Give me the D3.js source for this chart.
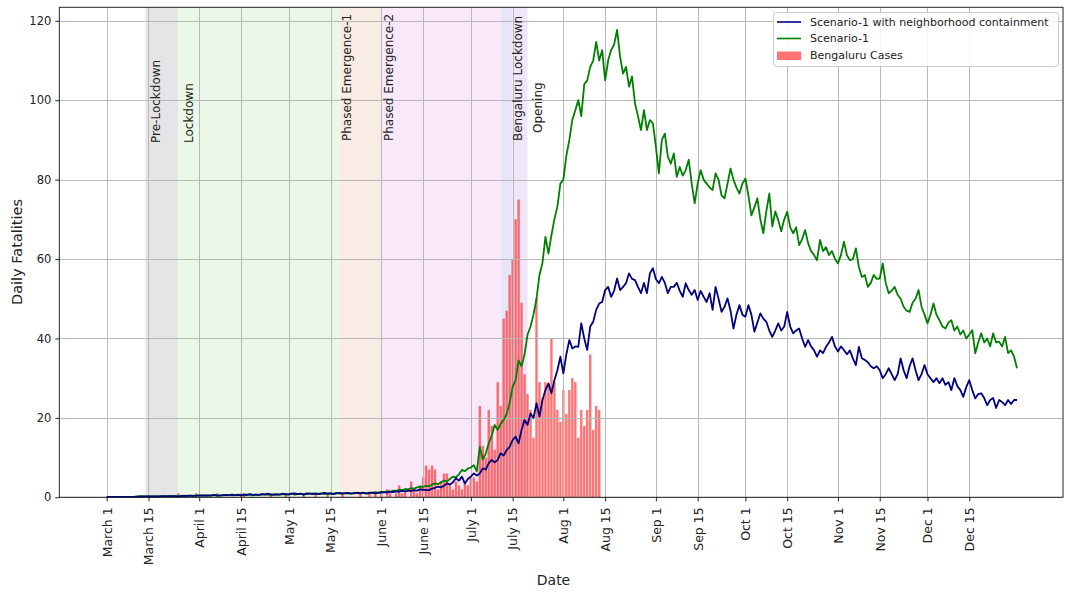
<!DOCTYPE html>
<html><head><meta charset="utf-8">
<script src="https://cdn.jsdelivr.net/npm/d3@7"></script>
<style>body{margin:0;background:#fff}svg text{font-family:"DejaVu Sans",sans-serif;fill:#222}</style>
</head><body><svg id="c" width="1067" height="592"></svg>
<script>
// ---------------- DATA ----------------
const startDate = "2020-03-01"; // first day of every daily series

// Scenario-1 with neighborhood containment (daily, from Mar 1)
const scenarioContain = [
0.1,0.1,0.1,0.1,0.1,0.1,0.1,0.1,0.1,0.1,
0.1,0.2,0.2,0.2,0.2,0.2,0.2,0.2,0.2,0.3,
0.2,0.3,0.3,0.3,0.2,0.3,0.4,0.3,0.4,0.3,
0.4,0.4,0.5,0.4,0.5,0.4,0.6,0.5,0.4,0.5,
0.6,0.5,0.7,0.5,0.6,0.5,0.7,0.6,0.8,0.6,
0.7,0.6,0.8,0.7,0.9,0.7,0.6,0.8,0.7,0.9,
0.8,0.7,0.9,1.0,0.8,0.9,0.7,1.0,0.9,0.8,
1.0,0.8,0.9,1.1,0.9,1.0,0.8,1.0,1.1,0.9,
1.0,1.1,0.9,1.0,1.2,1.0,1.1,0.9,1.1,1.2,
1.0,1.1,
1.2,1.3,1.2,1.4,1.3,1.5,1.4,1.6,1.5,1.7,
1.6,1.8,1.7,2.0,1.9,1.8,1.8,2.2,2.4,2.7,
2.5,2.9,3.5,3.2,3.8,4.8,4.2,5.2,3.5,4.6,
5.2,6.0,5.5,6.0,7.3,7.0,8.6,9.4,8.8,9.4,11.1,10.5,11.9,12.7,14.4,
15.3,13.6,17,19.5,18.2,21.1,20,23.7,20.3,24.5,27,28.7,26.2,29.5,32,35.4,31.2,36,39.6,37.5,38,37.9,43.8,40,37.1,43,44.2,
47.2,48.8,49.2,52.2,53,50.5,52,55.1,52.2,53,53.9,56.4,55,54.7,53,51.4,54,51.4,56.4,57.7,
55,53.9,55.5,54,51.4,53,53,54,52,50.5,53.9,52.2,51,52.2,49.7,52,50.5,
49.2,51.4,47.2,53,50,46.7,48,50.1,47,42.5,46,48.4,46,45.5,48.4,46,41.7,44,46.3,45,
44.2,42,40.4,42,43.8,42,43,46.7,43,41.3,42,42.5,40,37.9,39.6,38,37,35.4,37,36.3,
37.9,39,40.4,38,36.7,38,37.1,36,37,35,33.3,37.9,35,34.6,34,33,32.5,33,32,30,
31,32.5,31,29.5,31,35,32,30,33,35,32,29.5,31,33.3,31,30,29,30,28.7,30,
28.3,29,27,30,28,27,25.3,27.8,29.5,27,24.9,26,26.2,25,23.2,24.5,25,22.5,24.5,24,
23.2,24.5,23.5,24.5,24.5
];

// Scenario-1 (daily, from Mar 1)
const scenario1 = [
0.1,0.1,0.1,0.1,0.1,0.1,0.1,0.1,0.1,0.1,
0.2,0.2,0.2,0.2,0.2,0.2,0.2,0.2,0.3,0.3,
0.3,0.3,0.3,0.3,0.3,0.4,0.3,0.4,0.4,0.4,
0.4,0.5,0.4,0.5,0.4,0.5,0.5,0.4,0.5,0.6,
0.5,0.6,0.5,0.6,0.7,0.5,0.6,0.7,0.6,0.5,
0.7,0.6,0.7,0.8,0.6,0.7,0.8,0.6,0.7,0.8,
0.7,0.8,0.9,0.7,0.8,0.9,0.7,0.8,0.9,1.0,
0.8,0.9,1.0,0.8,0.9,1.0,0.9,1.1,0.9,1.0,
1.1,0.9,1.0,1.2,1.0,1.1,1.2,1.0,1.2,1.1,
1.3,1.2,
1.4,1.3,1.5,1.4,1.7,1.6,1.9,1.8,2.1,2.0,
2.3,2.2,2.5,2.7,2.6,2.9,2.8,3.2,3.5,3.3,
3.8,4.2,4.0,4.6,5.2,5.0,5.8,6.9,6.6,7.2,
7.5,8.1,6.5,12.7,9.5,11.0,13.6,15.5,18.2,17.0,18.5,19.5,21.0,23.7,27.8,
29.5,34.5,33,36,41,43,46,50,56,59,65.6,61.4,66,70,73.2,79,80,86,90,95,
97.5,100,96,104,105,108.4,110,114.7,110,112.6,105,110,112.6,114,117.7,111,106.7,108.4,103.4,106,
99.2,96,92.5,97.5,92.5,95,94.2,88.3,81.6,90,91.6,85.8,84,86.6,80.7,83.2,81,82.4,85,79,
74,79,82.4,80,79,78,77.4,81.6,80,76,75.3,79,82.8,80,78,76.5,79,80.3,76,71,
73,75.3,70,66.5,72,76.5,68.2,72,69.8,67,70,71.9,68,66.5,68,63.5,65,67.3,64,62,
61,59.7,64.8,62,63,61,62,60,58.9,61,64.4,61,59.7,60,62.7,58,55.5,56,53,54,
56,55,55.1,58.9,54,51.4,52,53,51,50,48,47,46.7,49,50,52.2,48,46,43.8,46,
48.8,46,44.6,43,42.5,44,44.6,42,43,41,42,40,41,42.1,36.3,39,41.3,39,40,38,
41.3,39,39.2,38,40.4,36.3,37,35.4,32.5
];

// Bengaluru Cases (daily, from Mar 1)
const bengaluruCases = [
0,0,0,0,0,0,0,0,0,0, 0,0,0,0,0,0,0,0,0,0,
0,0,0,0,1,0,0,0,0,0, 1,0,0,0,0,0,0,1,0,0,
0,0,0,0,0,1,1,0,0,0, 0,0,0,0,0,1,0,0,0,0,
1,0,0,0,0,0,1,0,0,0, 1,0,0,0,1,0,0,0,0,1,
0,0,0,0,0,1,0,0,1,0, 1,0,1,0,2,1,0,1,3,1,
2,0,4,2,1,3,5,8,7,8, 7,2,4,6,6,3,2,4,3,2,
4,3,5,5,4,23,13,10,22,18, 12,29,23,45,47,56,60,70,75,49,
31,26,22,15,50,29,25,29,28,40, 29,22,19,27,21,27,30,29,15,22,
18,22,36,17,23,22
];

const tickDates  = ["2020-03-01","2020-03-15","2020-04-01","2020-04-15","2020-05-01","2020-05-15","2020-06-01","2020-06-15","2020-07-01","2020-07-15","2020-08-01","2020-08-15","2020-09-01","2020-09-15","2020-10-01","2020-10-15","2020-11-01","2020-11-15","2020-12-01","2020-12-15"];
const tickLabels = ["March 1","March 15","April 1","April 15","May 1","May 15","June 1","June 15","July 1","July 15","Aug 1","Aug 15","Sep 1","Sep 15","Oct 1","Oct 15","Nov 1","Nov 15","Dec 1","Dec 15"];
const yTicks = [0,20,40,60,80,100,120];

const phaseNames  = ["Pre-Lockdown","Lockdown","Phased Emergence-1","Phased Emergence-2","Bengaluru Lockdown","Opening"];
const phaseStarts = ["2020-03-14","2020-03-25","2020-05-18","2020-06-01","2020-07-11","2020-07-15"];
const phaseEnds   = ["2020-03-25","2020-05-18","2020-06-01","2020-07-11","2020-07-15","2020-07-20"];
const phaseLabelDates = ["2020-03-19","2020-03-30","2020-05-22","2020-06-05","2020-07-18","2020-07-25"];

const seriesNames = ["Scenario-1 with neighborhood containment","Scenario-1","Bengaluru Cases"];

// ---------------- DRAW ----------------
const parse = d3.utcParse("%Y-%m-%d");
const t0 = parse(startDate);
const DAY = 864e5;
const dayDate = i => new Date(+t0 + i*DAY);
const svg = d3.select("#c");

const L = 59.3, R = 1063, T = 7.3, B = 497.3;
const x = d3.scaleUtc()
  .domain([dayDate(-15.88), dayDate(320.4)])
  .range([L, R]);
const y = d3.scaleLinear().domain([0, 123.4]).range([B, T]);

const phaseColors = ["#e5e5e8","#eaf8e8","#f8ece5","#f9e8f9","#e6e6f8","#efe6f8"];
const labelBottoms = [143,143,141,141,141,133];

// bands
svg.append("g").selectAll("rect").data(phaseNames).join("rect")
  .attr("x",(d,i)=>x(parse(phaseStarts[i])))
  .attr("width",(d,i)=>x(parse(phaseEnds[i]))-x(parse(phaseStarts[i])))
  .attr("y",T).attr("height",B-T)
  .attr("fill",(d,i)=>phaseColors[i]);

// bars
const bw = x(dayDate(0.8)) - x(dayDate(0));
svg.append("g").selectAll("rect").data(bengaluruCases).join("rect")
  .attr("x",(d,i)=>x(dayDate(i)) - bw/2)
  .attr("width", bw)
  .attr("y", d=>y(d)).attr("height", d=>B-y(d))
  .attr("fill","#ff0000").attr("fill-opacity",0.55);

// grid
const grid = svg.append("g").attr("stroke","#b8b8b8").attr("stroke-width",1);
tickDates.forEach(td=>{ const xx=Math.round(x(parse(td)))+0.5;
  grid.append("line").attr("x1",xx).attr("x2",xx).attr("y1",T).attr("y2",B); });
yTicks.forEach(v=>{ const yy=Math.round(y(v))+0.5;
  grid.append("line").attr("x1",L).attr("x2",R).attr("y1",yy).attr("y2",yy); });

// phase labels
svg.append("g").selectAll("text").data(phaseNames).join("text")
  .attr("transform",(d,i)=>`translate(${x(parse(phaseLabelDates[i]))},${labelBottoms[i]}) rotate(-90)`)
  .attr("font-size",12).attr("text-anchor","start")
  .text(d=>d);

// lines
const line = d3.line().x((v,i)=>x(dayDate(i))).y(v=>y(v));
svg.append("path").datum(scenario1).attr("d",line)
  .attr("fill","none").attr("stroke","#008000").attr("stroke-width",1.8).attr("stroke-linejoin","round");
svg.append("path").datum(scenarioContain).attr("d",line)
  .attr("fill","none").attr("stroke","#000080").attr("stroke-width",1.8).attr("stroke-linejoin","round");

// axes frame
svg.append("rect").attr("x",L).attr("y",T).attr("width",R-L).attr("height",B-T)
  .attr("fill","none").attr("stroke","#222").attr("stroke-width",1);

// x axis
const xa = svg.append("g").attr("transform",`translate(0,${B})`)
  .call(d3.axisBottom(x).tickValues(tickDates.map(parse)).tickSize(4).tickPadding(3)
    .tickFormat((d,i)=>tickLabels[i]));
xa.select(".domain").remove();
xa.selectAll("line").attr("stroke","#222");
xa.selectAll("text").attr("font-size",12.5).attr("font-family","DejaVu Sans").attr("fill","#222")
  .attr("text-anchor","end").attr("transform","rotate(-90)")
  .attr("x",-10).attr("y",0).attr("dy","0.35em");

// y axis
const ya = svg.append("g").attr("transform",`translate(${L},0)`)
  .call(d3.axisLeft(y).tickValues(yTicks).tickSize(4).tickPadding(4));
ya.select(".domain").remove();
ya.selectAll("line").attr("stroke","#222");
ya.selectAll("text").attr("font-size",11.5).attr("font-family","DejaVu Sans").attr("fill","#222");

// axis titles
svg.append("text").attr("x",553.5).attr("y",585).attr("text-anchor","middle").attr("font-size",14).text("Date");
svg.append("text").attr("transform","translate(22,252) rotate(-90)").attr("text-anchor","middle").attr("font-size",14.5).text("Daily Fatalities");

// legend
const lg = svg.append("g");
lg.append("rect").attr("x",773.5).attr("y",12.5).attr("width",285).attr("height",54).attr("rx",3)
  .attr("fill","#fff").attr("fill-opacity",0.85).attr("stroke","#cccccc");
const lcol = ["#000080","#008000"];
[0,1].forEach(i=>{
  lg.append("line").attr("x1",777).attr("x2",801).attr("y1",22+i*16.5).attr("y2",22+i*16.5)
    .attr("stroke",lcol[i]).attr("stroke-width",1.6);
});
lg.append("rect").attr("x",777).attr("y",51.5).attr("width",24).attr("height",8.5)
  .attr("fill","#ff0000").attr("fill-opacity",0.55);
lg.selectAll("text.l").data(seriesNames).join("text").attr("class","l")
  .attr("x",810).attr("y",(d,i)=>22+i*16.5).attr("dy","0.35em").attr("font-size",11).text(d=>d);
</script></body></html>
